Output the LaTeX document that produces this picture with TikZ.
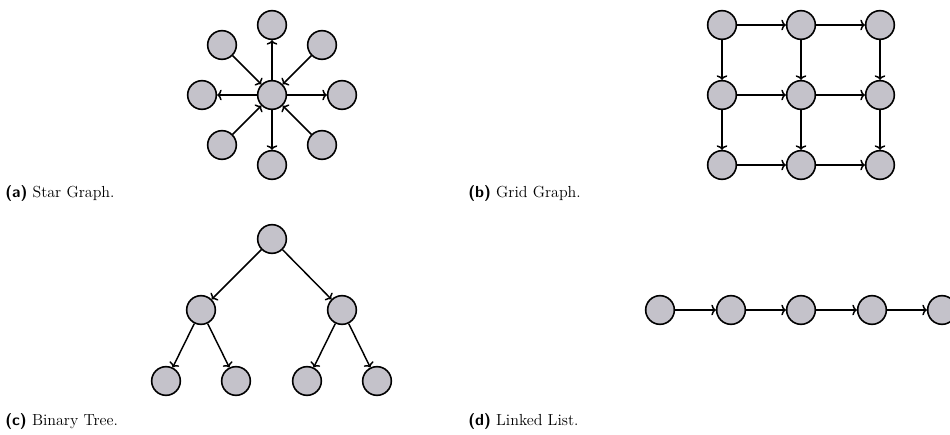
\documentclass[tikz,border=0pt]{standalone}
\usetikzlibrary{arrows.meta}
\definecolor{nodefill}{RGB}{196,194,202}
\tikzset{
  vtx/.style={circle, draw=black, line width=1.2pt, fill=nodefill, minimum size=21.5pt, inner sep=0pt},
  edge/.style={-{To[length=3.4pt,width=8pt]}, line width=1.1pt, black},
  captxt/.style={anchor=base west, inner sep=0pt, font=\fontsize{12}{14}\selectfont},
}
\begin{document}
\begin{tikzpicture}[x=0.75pt, y=-0.75pt]
\useasboundingbox (0,0) rectangle (950,435);
% (a) Star graph
\node[vtx] (c) at (272,95) {};
\node[vtx] (n) at (272,25) {};
\node[vtx] (s) at (272,165) {};
\node[vtx] (w) at (202,95) {};
\node[vtx] (e) at (342,95) {};
\node[vtx] (nw) at (222,45) {};
\node[vtx] (ne) at (322,45) {};
\node[vtx] (sw) at (222,145) {};
\node[vtx] (se) at (322,145) {};
\draw[edge] (c) -- (n);
\draw[edge] (c) -- (s);
\draw[edge] (c) -- (w);
\draw[edge] (c) -- (e);
\draw[edge] (nw) -- (c);
\draw[edge] (ne) -- (c);
\draw[edge] (sw) -- (c);
\draw[edge] (se) -- (c);
\node[captxt] (capa) at (5,197) {\textsf{\bfseries (a)} Star Graph.};
% (b) Grid graph
\foreach \i/\x in {1/722,2/801,3/880}
  \foreach \j/\y in {1/25,2/95,3/165}
    \node[vtx] (g\i\j) at (\x,\y) {};
\foreach \j in {1,2,3} {
  \draw[edge] (g1\j) -- (g2\j);
  \draw[edge] (g2\j) -- (g3\j);
}
\foreach \i in {1,2,3} {
  \draw[edge] (g\i1) -- (g\i2);
  \draw[edge] (g\i2) -- (g\i3);
}
\node[captxt] (capb) at (468,197) {\textsf{\bfseries (b)} Grid Graph.};
% (c) Binary tree
\node[vtx] (r) at (272,239) {};
\node[vtx] (l) at (201,310) {};
\node[vtx] (rr) at (342,310) {};
\node[vtx] (ll) at (166,381) {};
\node[vtx] (lr) at (236,381) {};
\node[vtx] (rl) at (307,381) {};
\node[vtx] (rrr) at (377,381) {};
\draw[edge] (r) -- (l);
\draw[edge] (r) -- (rr);
\draw[edge] (l) -- (ll);
\draw[edge] (l) -- (lr);
\draw[edge] (rr) -- (rl);
\draw[edge] (rr) -- (rrr);
\node[captxt] (capc) at (5,425) {\textsf{\bfseries (c)} Binary Tree.};
% (d) Linked list
\node[vtx] (a1) at (660,310) {};
\node[vtx] (a2) at (731,310) {};
\node[vtx] (a3) at (801,310) {};
\node[vtx] (a4) at (872,310) {};
\node[vtx] (a5) at (942,310) {};
\draw[edge] (a1) -- (a2);
\draw[edge] (a2) -- (a3);
\draw[edge] (a3) -- (a4);
\draw[edge] (a4) -- (a5);
\node[captxt] (capd) at (468,425) {\textsf{\bfseries (d)} Linked List.};
\end{tikzpicture}
\end{document}
